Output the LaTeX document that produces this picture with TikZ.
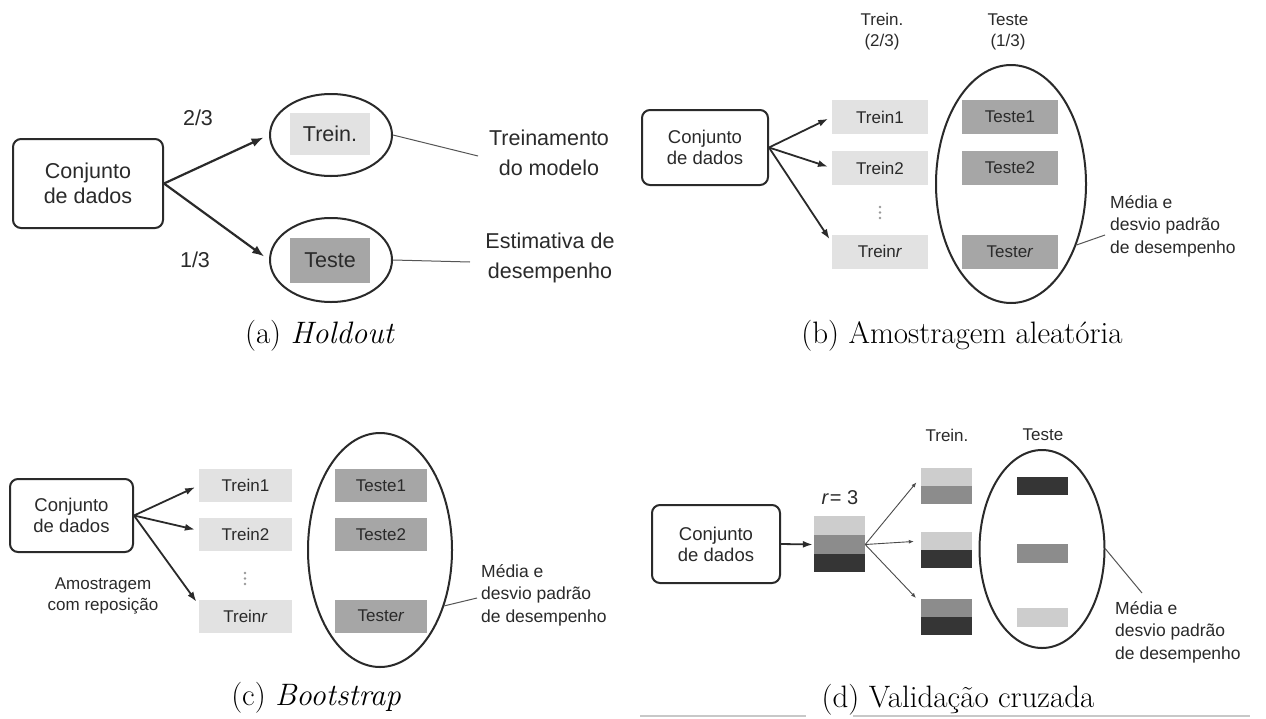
\documentclass[tikz,border=0pt]{standalone}
\usepackage{fontspec}
\newfontfamily\hv{Liberation Sans}
\usetikzlibrary{shapes.geometric,arrows.meta,calc}
\definecolor{txtc}{HTML}{2A2A2A}
\definecolor{lineC}{HTML}{2A2A2A}
\definecolor{lightg}{HTML}{E2E2E2}
\definecolor{midg}{HTML}{A6A6A6}
\definecolor{cvl}{HTML}{CDCDCD}
\definecolor{cvm}{HTML}{8C8C8C}
\definecolor{cvd}{HTML}{353535}
\definecolor{rulec}{HTML}{C8C8C8}
\begin{document}
\begin{tikzpicture}[x=1pt,y=-1pt,
  ta/.style={font=\hv\fontsize{21.5}{25}\selectfont, text=txtc, align=center, inner sep=0pt},
  tas/.style={font=\hv\fontsize{21.5}{30}\selectfont, text=txtc, align=center, inner sep=0pt},
  tb/.style={font=\hv\fontsize{17}{21}\selectfont, text=txtc, align=center, inner sep=0pt},
  tc/.style={font=\hv\fontsize{18.5}{21}\selectfont, text=txtc, align=center, inner sep=0pt},
  tm/.style={font=\hv\fontsize{17.5}{22.5}\selectfont, text=txtc, align=left, anchor=west, inner sep=0pt},
  captxt/.style={font=\fontsize{31}{36}\selectfont, text=black, inner sep=0pt},
  dbox/.style={draw=lineC, line width=2pt, rounded corners=8pt, fill=white, inner sep=0pt},
  ell/.style={ellipse, draw=lineC, line width=2pt, inner sep=0pt},
  gl/.style={fill=lightg, inner sep=0pt},
  gm/.style={fill=midg, inner sep=0pt},
  arr/.style={draw=lineC, line width=2.2pt, -{Latex[length=12pt,width=9pt]}, shorten >=6pt},
  arrb/.style={draw=lineC, line width=1.8pt, -{Latex[length=10pt,width=7pt]}, shorten >=4pt},
  arrt/.style={draw=lineC!85, line width=0.9pt, -{Latex[length=5pt,width=4pt]}, shorten >=7pt},
  lnk/.style={draw=lineC!80, line width=1pt},
  blk/.style={inner sep=0pt, minimum width=51pt},
  vdot/.style={fill=gray!80, draw=none}
]
\fill[white] (0,0) rectangle (1266,718);
\useasboundingbox (0,0) rectangle (1266,718);

% ---------------- (a) Holdout ----------------
\node[dbox, minimum width=150pt, minimum height=89pt, ta] (a0) at (88,183.5) {Conjunto\\de dados};
\node[ell, minimum width=122pt, minimum height=82pt] (ae1) at (331,135) {};
\node[ell, minimum width=122pt, minimum height=84pt] (ae2) at (331,260) {};
\node[gl, minimum width=80pt, minimum height=42pt, ta] (at1) at (330,134) {Trein.};
\node[gm, minimum width=80pt, minimum height=45pt, ta] (at2) at (330,260.5) {Teste};
\draw[arr] (a0.east) -- (ae1.west);
\draw[arr] (a0.east) -- (ae2.west);
\node[ta] (af1) at (198,118) {2/3};
\node[ta] (af2) at (195,260) {1/3};
\node[tas] (atx1) at (549,153) {Treinamento\\do modelo};
\node[tas] (atx2) at (550,257.5) {Estimativa de\\desempenho};
\coordinate (ac1) at (478,156);
\coordinate (ac2) at (470,262);
\draw[lnk] (ae1.east) -- (ac1);
\draw[lnk] (ae2.east) -- (ac2);
\node[captxt] (acap) at (320,336) {(a) \textit{Holdout}};

% ---------------- (b) Amostragem aleatoria ----------------
\node[dbox, minimum width=126pt, minimum height=75pt, tc] (b0) at (705,147.5) {Conjunto\\de dados};
\node[tb] (bh1) at (882,32) {Trein.\\(2/3)};
\node[tb] (bh2) at (1008,32) {Teste\\(1/3)};
\node[ell, minimum width=150pt, minimum height=238pt] (be) at (1011,184) {};
\node[gl, minimum width=96pt, minimum height=34pt, tb] (bt1) at (880,117) {Trein1};
\node[gl, minimum width=96pt, minimum height=34pt, tb] (bt2) at (880,168) {Trein2};
\node[gl, minimum width=96pt, minimum height=34pt, tb] (bt3) at (880,251.5) {Trein\textit{r}};
\node[gm, minimum width=96pt, minimum height=34pt, tb] (bs1) at (1010,117) {Teste1};
\node[gm, minimum width=96pt, minimum height=34pt, tb] (bs2) at (1010,168) {Teste2};
\node[gm, minimum width=96pt, minimum height=34pt, tb] (bs3) at (1010,251.5) {Teste\textit{r}};
\fill[vdot] (880,207) circle (1.3) (880,212.5) circle (1.3) (880,218) circle (1.3);
\draw[arrb] (b0.east) -- (bt1.west);
\draw[arrb] (b0.east) -- (bt2.west);
\draw[arrb] (b0.east) -- ([yshift=9pt]bt3.west);
\coordinate (bm) at (1105,235);
\draw[lnk] (be.-43.6) -- (bm);
\node[tm] (bmt) at (1110,226) {Média e\\desvio padrão\\de desempenho};
\node[captxt] (bcap) at (962,336) {(b) Amostragem aleatória};

% ---------------- (c) Bootstrap ----------------
\node[dbox, minimum width=123pt, minimum height=73pt, tc] (c0) at (71.5,515.5) {Conjunto\\de dados};
\node[ell, minimum width=144pt, minimum height=234pt] (ce) at (380,550) {};
\node[gl, minimum width=93pt, minimum height=33pt, tb] (ct1) at (245.5,485.5) {Trein1};
\node[gl, minimum width=93pt, minimum height=33pt, tb] (ct2) at (245.5,534.5) {Trein2};
\node[gl, minimum width=93pt, minimum height=33pt, tb] (ct3) at (245.5,616) {Trein\textit{r}};
\node[gm, minimum width=92pt, minimum height=33pt, tb] (cs1) at (381,485.5) {Teste1};
\node[gm, minimum width=92pt, minimum height=33pt, tb] (cs2) at (381,534.5) {Teste2};
\node[gm, minimum width=92pt, minimum height=33pt, tb] (cs3) at (381,616) {Teste\textit{r}};
\fill[vdot] (245,573) circle (1.3) (245,578.5) circle (1.3) (245,584) circle (1.3);
\draw[arrb] (c0.east) -- (ct1.west);
\draw[arrb] (c0.east) -- ([yshift=4pt]ct2.west);
\draw[arrb] (c0.east) -- ([yshift=11pt]ct3.west);
\node[tb] (crep) at (103,596) {Amostragem\\com reposição};
\coordinate (cm) at (477,598);
\draw[lnk] (ce.-41.8) -- (cm);
\node[tm] (cmt) at (481,595) {Média e\\desvio padrão\\de desempenho};
\node[captxt] (ccap) at (316,698) {(c) \textit{Bootstrap}};

% ---------------- (d) Validacao cruzada ----------------
\node[dbox, minimum width=128pt, minimum height=78pt, tc] (d0) at (716,544) {Conjunto\\de dados};
\node[blk, fill=cvl, minimum height=19pt] (ds1) at (839.5,525.5) {};
\node[blk, fill=cvm, minimum height=19pt] (ds2) at (839.5,544.5) {};
\node[blk, fill=cvd, minimum height=18pt] (ds3) at (839.5,563) {};
\node[tc, font=\hv\fontsize{20}{22}\selectfont] (dr) at (840,498) {\textit{r}\kern1pt= 3};
\draw[arrb, shorten >=1pt] (d0.east) -- (ds2.west);
\node[tb] (dh1) at (947,435) {Trein.};
\node[tb] (dh2) at (1043,435) {Teste};
\node[blk, fill=cvl, minimum height=18pt] (s1a) at (946.5,477) {};
\node[blk, fill=cvm, minimum height=18pt] (s1b) at (946.5,495) {};
\node[blk, fill=cvl, minimum height=18pt] (s2a) at (946.5,541) {};
\node[blk, fill=cvd, minimum height=18pt] (s2b) at (946.5,559) {};
\node[blk, fill=cvm, minimum height=18pt] (s3a) at (946.5,608) {};
\node[blk, fill=cvd, minimum height=18pt] (s3b) at (946.5,626) {};
\draw[arrt] (ds2.east) -- (s1a.west);
\draw[arrt] (ds2.east) -- (s2a.west);
\draw[arrt] (ds2.east) -- ([yshift=5pt]s3a.west);
\node[ell, minimum width=125pt, minimum height=198pt] (de) at (1042,549) {};
\node[blk, fill=cvd, minimum height=18.5pt] (dt1) at (1042.5,486) {};
\node[blk, fill=cvm, minimum height=18.5pt] (dt2) at (1042.5,553.5) {};
\node[blk, fill=cvl, minimum height=18.5pt] (dt3) at (1042.5,617.5) {};
\coordinate (dm) at (1142,593);
\draw[lnk] (de.east) -- (dm);
\node[tm] (dmt) at (1115,632) {Média e\\desvio padrão\\de desempenho};
\node[captxt] (dcap) at (958,700) {(d) Validação cruzada};
\draw[rulec, line width=2pt] (640,716) -- (806,716);
\draw[rulec, line width=2pt] (853,716) -- (1250,716);
\end{tikzpicture}
\end{document}
